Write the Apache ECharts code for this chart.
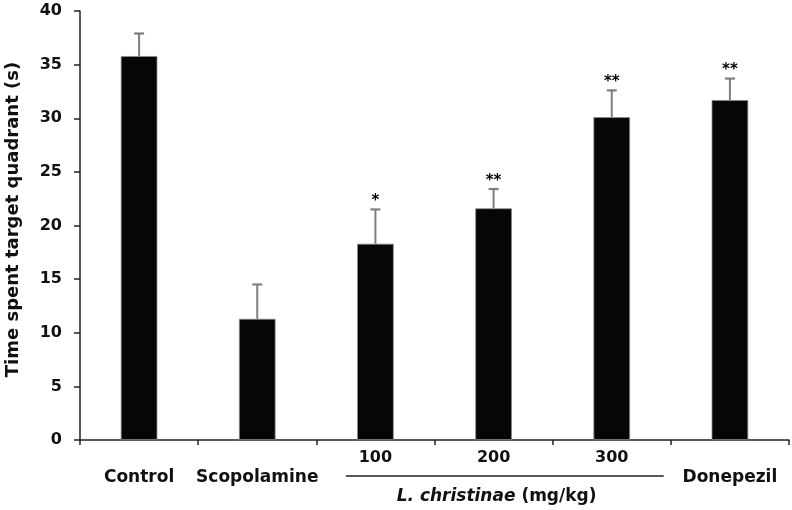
<!DOCTYPE html>
<html><head><meta charset="utf-8">
<script src="https://cdn.jsdelivr.net/npm/echarts@6/dist/echarts.min.js"></script>
<style>html,body{margin:0;padding:0;background:#fff}#c{width:792px;height:510px}</style>
</head><body><div id="c"></div>
<script>
const categories = ['Control', 'Scopolamine', '100', '200', '300', 'Donepezil'];
const doseCategories = ['100', '200', '300'];
const means = [35.8, 11.3, 18.3, 21.6, 30.1, 31.7];
const errors = [2.1, 3.2, 3.2, 1.8, 2.5, 2.0];
const marks = ['', '', '*', '**', '**', '**'];
const yAxisTitle = 'Time spent target quadrant (s)';
const groupLabelItalic = 'L. christinae';
const groupLabelUnit = ' (mg/kg)';

const FONT = 'DejaVu Sans';
const chart = echarts.init(document.getElementById('c'), null, {renderer: 'canvas'});

const option = {
  animation: false,
  backgroundColor: '#fff',
  grid: {left: 80, right: 3, top: 11, bottom: 70, containLabel: false, outerBoundsMode: 'none'},
  xAxis: {
    type: 'category',
    data: categories,
    boundaryGap: true,
    axisLine: {lineStyle: {color: '#222', width: 1.5}},
    axisTick: {show: true, length: 5, inside: false, alignWithLabel: false, lineStyle: {color: '#222', width: 1.5}},
    axisLabel: {
      interval: 0,
      margin: 8,
      formatter: function (v) {
        return doseCategories.indexOf(v) >= 0 ? '{d|' + v + '}\n{d| }' : '{n| }\n{n|' + v + '}';
      },
      rich: {
        d: {fontFamily: FONT, fontWeight: 'bold', fontSize: 16, lineHeight: 20, color: '#111'},
        n: {fontFamily: FONT, fontWeight: 'bold', fontSize: 17, lineHeight: 20, color: '#111'}
      }
    }
  },
  yAxis: {
    type: 'value',
    min: 0, max: 40, interval: 5,
    name: yAxisTitle,
    nameLocation: 'middle',
    nameGap: 58,
    nameRotate: 90,
    nameTextStyle: {fontFamily: FONT, fontWeight: 'bold', fontSize: 18, color: '#111', padding: [0, 0, 0, 12]},
    axisLine: {show: true, lineStyle: {color: '#222', width: 1.5}},
    axisTick: {show: true, length: 6, lineStyle: {color: '#222', width: 1.5}},
    splitLine: {show: false},
    axisLabel: {margin: 18, fontFamily: FONT, fontWeight: 'bold', fontSize: 16, color: '#111'}
  },
  series: [
    {
      type: 'bar',
      data: means,
      barWidth: '31%',
      itemStyle: {color: '#060606', borderColor: '#8a8a8a', borderWidth: 0.8},
      z: 2
    },
    {
      type: 'custom',
      z: 3,
      data: categories.map((c, i) => [i, means[i], errors[i]]),
      renderItem: function (params, api) {
        const x = api.value(0), m = api.value(1), e = api.value(2);
        const base = api.coord([x, m]);
        const top = api.coord([x, m + e]);
        const cap = 5;
        const children = [
          {type: 'line', shape: {x1: base[0], y1: base[1], x2: top[0], y2: top[1]}, style: {stroke: '#7f7f7f', lineWidth: 2}},
          {type: 'line', shape: {x1: top[0] - cap, y1: top[1], x2: top[0] + cap, y2: top[1]}, style: {stroke: '#7f7f7f', lineWidth: 2.2}}
        ];
        const mk = marks[params.dataIndex];
        if (mk) {
          children.push({type: 'text', style: {text: mk, x: top[0], y: top[1] - 8, align: 'center', verticalAlign: 'middle', fontFamily: FONT, fontWeight: 'bold', fontSize: 15, fill: '#000'}});
        }
        return {type: 'group', children: children};
      }
    }
  ]
};
chart.setOption(option);

// group bracket under dose categories
const p100 = chart.convertToPixel({xAxisIndex: 0}, doseCategories[0]);
const p300 = chart.convertToPixel({xAxisIndex: 0}, doseCategories[doseCategories.length - 1]);
const bw = (p300 - p100) / (doseCategories.length - 1);
const axisY = chart.convertToPixel({yAxisIndex: 0}, 0);
chart.setOption({
  graphic: [
    {type: 'line', shape: {x1: p100 - 0.25 * bw, y1: axisY + 36, x2: p300 + 0.44 * bw, y2: axisY + 36}, style: {stroke: '#222', lineWidth: 1.5}},
    {type: 'text', x: (p100 + p300) / 2 + 3, y: axisY + 57,
      style: {text: '{i|' + groupLabelItalic + '}{u|' + groupLabelUnit + '}', align: 'center', verticalAlign: 'middle',
        rich: {
          i: {fontFamily: FONT, fontWeight: 'bold', fontStyle: 'italic', fontSize: 17, fill: '#111'},
          u: {fontFamily: FONT, fontWeight: 'bold', fontSize: 17, fill: '#111'}
        }}}
  ]
});
</script>
</body></html>
